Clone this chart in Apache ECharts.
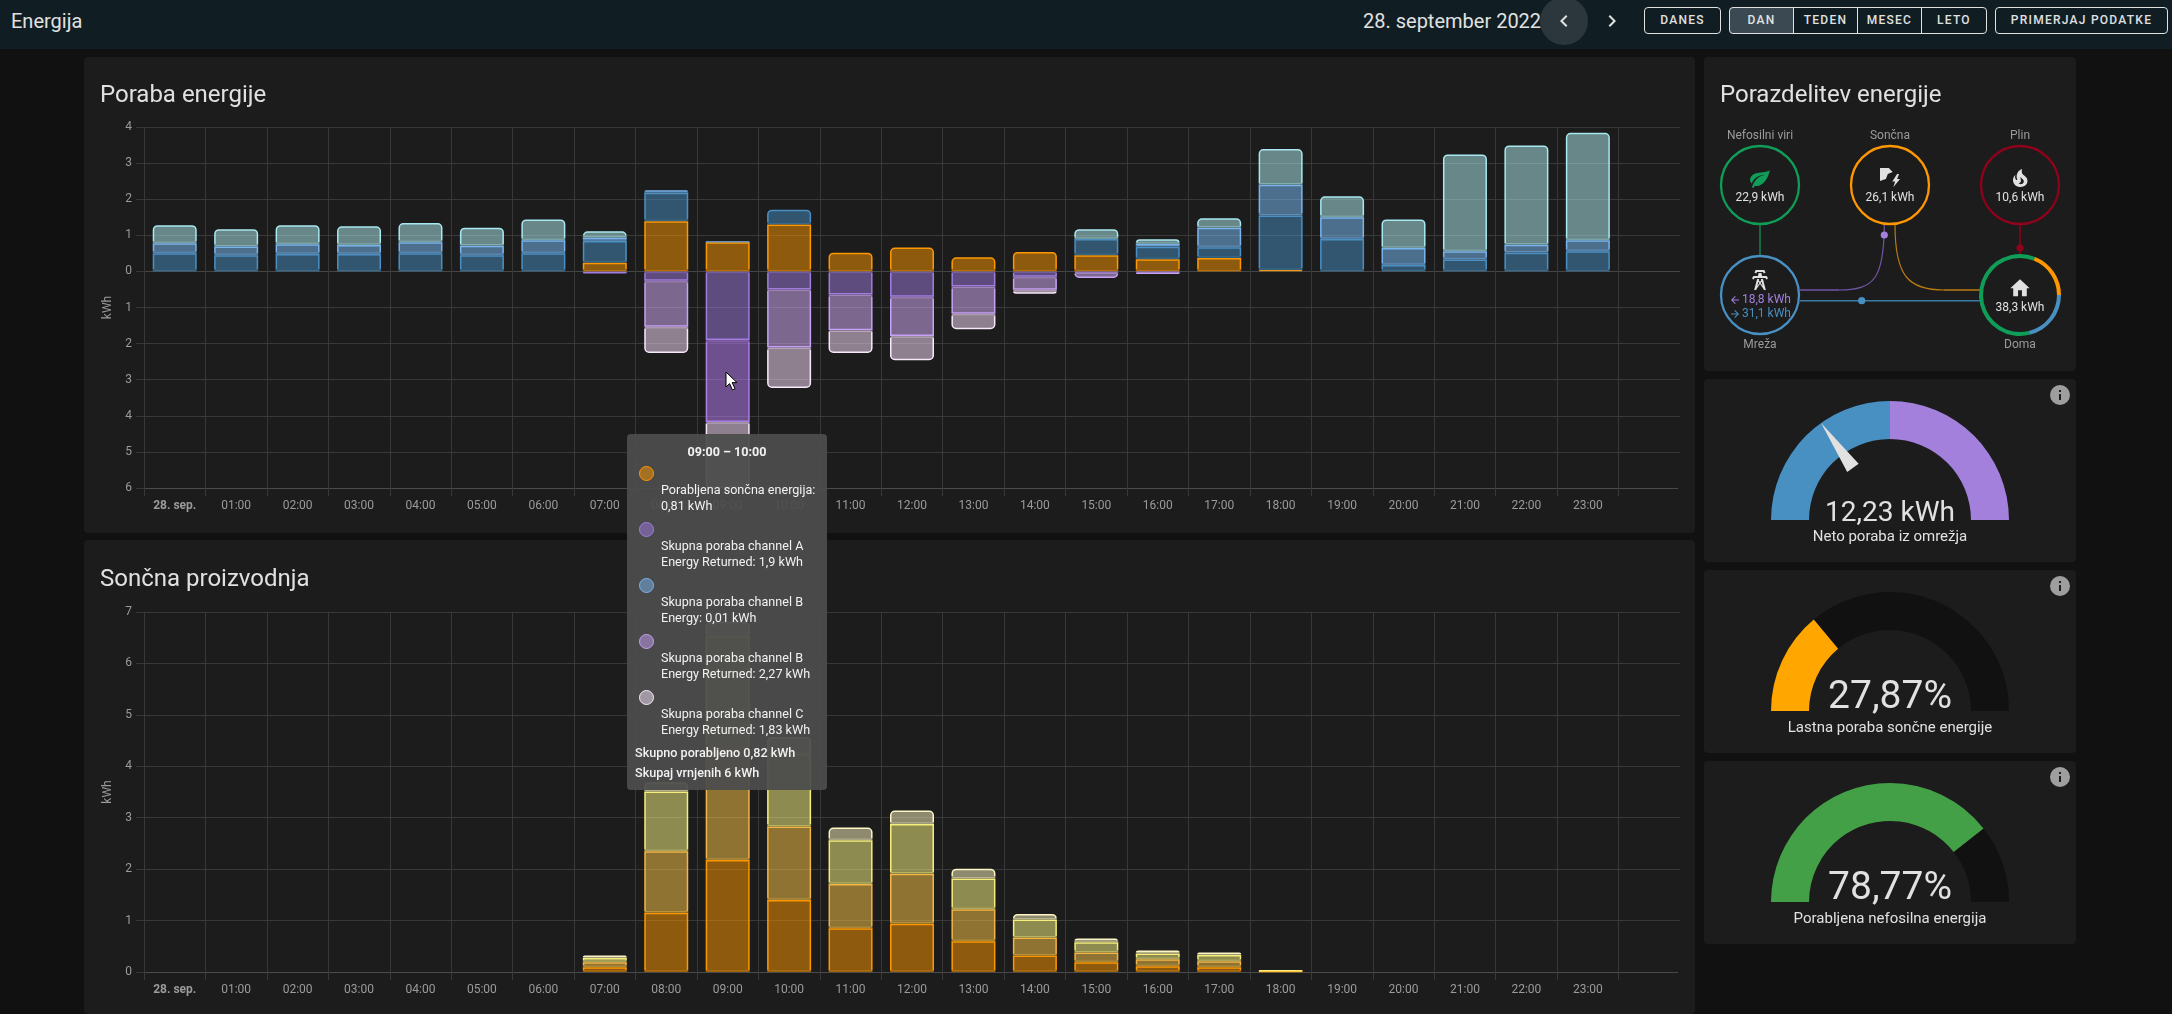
<!DOCTYPE html>
<html>
<head>
<meta charset="utf-8">
<title>Energija</title>
<script src="https://cdn.jsdelivr.net/npm/echarts@6/dist/echarts.min.js"></script>
<style>
    html, body { margin: 0; padding: 0; width: 2172px; height: 1014px; overflow: hidden; background: #111111; color: #e1e1e1; font-family: Roboto, sans-serif; }
    .header { position: absolute; left: 0; top: 0; width: 2172px; height: 49px; background: #101e24; }
    .header .name { position: absolute; left: 11px; top: 9px; font-size: 20px; line-height: 24px; }
    .header .date { position: absolute; left: 1363px; top: 9px; font-size: 20px; line-height: 24px; white-space: nowrap; }
    .hover-dot { position: absolute; left: 1540px; top: -3px; width: 48px; height: 48px; border-radius: 50%; background: #2b373d; }
    .chev { position: absolute; top: 9px; width: 24px; height: 24px; fill: #e1e1e1; }
    .btn { position: absolute; top: 7px; height: 27px; box-sizing: border-box; border: 1px solid #e1e1e1; border-radius: 4px; font-size: 12px; font-weight: 500; letter-spacing: 1.25px; line-height: 25px; text-align: center; white-space: nowrap; }
    .btn.mid { border-radius: 0; }
    .btn.first { border-radius: 4px 0 0 4px; }
    .btn.last { border-radius: 0 4px 4px 0; }
    .btn.on { background: #3b4a52; }
    .card { position: absolute; background: #1c1c1c; border-radius: 4px; overflow: hidden; }
    .card .title { position: absolute; left: 16px; top: 22px; font-size: 24px; line-height: 30px; white-space: nowrap; z-index: 2; }
    .card .plot { position: absolute; left: 0; top: 0; width: 100%; height: 100%; }
    .card svg.info { position: absolute; right: 4px; top: 4px; width: 24px; height: 24px; fill: #9e9e9e; z-index: 2; }
    .tip-title { text-align: center; font-weight: 700; line-height: 16px; margin-bottom: 6px; }
    .tip-dot { width: 13px; height: 13px; border-radius: 50%; border-width: 1.5px; border-style: solid; margin-left: 12px; margin-bottom: 1px; }
    .tip-text { margin-left: 34px; width: 162px; line-height: 15.5px; margin-bottom: 9px; white-space: normal; }
    .tip-sum { margin-left: 8px; font-weight: 500; line-height: 20px; white-space: nowrap; position: relative; top: -3px; }
    .cursor { position: absolute; left: 725px; top: 371px; width: 14px; height: 20px; z-index: 100000000; }
</style>
</head>
<body>

<div class="header">
    <div class="name">Energija</div>
    <div class="date">28. september 2022</div>
    <div class="hover-dot"></div>
    <svg class="chev" style="left:1552px" viewBox="0 0 24 24"><path d="M15.41,16.58L10.83,12L15.41,7.41L14,6L8,12L14,18L15.41,16.58Z"/></svg>
    <svg class="chev" style="left:1600px" viewBox="0 0 24 24"><path d="M8.59,16.58L13.17,12L8.59,7.41L10,6L16,12L10,18L8.59,16.58Z"/></svg>
    <div class="btn" style="left:1644px;width:77px">DANES</div>
    <div class="btn first on" style="left:1729px;width:65px">DAN</div>
    <div class="btn mid" style="left:1793px;width:65px">TEDEN</div>
    <div class="btn mid" style="left:1857px;width:65px">MESEC</div>
    <div class="btn last" style="left:1921px;width:66px">LETO</div>
    <div class="btn" style="left:1995px;width:173px">PRIMERJAJ PODATKE</div>
</div>

<div class="card" style="left:84px;top:57px;width:1611px;height:476px">
    <div class="title">Poraba energije</div>
    <div class="plot" id="usage"></div>
</div>
<div class="card" style="left:84px;top:540px;width:1611px;height:474px">
    <div class="title" style="top:23px">Sončna proizvodnja</div>
    <div class="plot" id="solar"></div>
</div>
<div class="card" style="left:1704px;top:57px;width:372px;height:314px">
    <div class="title">Porazdelitev energije</div>
    <div class="plot" id="flow"></div>
</div>
<div class="card" style="left:1704px;top:379px;width:372px;height:183px">
    <svg class="info" viewBox="0 0 24 24"><path d="M13,9H11V7H13M13,17H11V11H13M12,2A10,10 0 0,0 2,12A10,10 0 0,0 12,22A10,10 0 0,0 22,12A10,10 0 0,0 12,2Z"/></svg>
    <div class="plot" id="gauge-net"></div>
</div>
<div class="card" style="left:1704px;top:570px;width:372px;height:183px">
    <svg class="info" viewBox="0 0 24 24"><path d="M13,9H11V7H13M13,17H11V11H13M12,2A10,10 0 0,0 2,12A10,10 0 0,0 12,22A10,10 0 0,0 22,12A10,10 0 0,0 12,2Z"/></svg>
    <div class="plot" id="gauge-self"></div>
</div>
<div class="card" style="left:1704px;top:761px;width:372px;height:183px">
    <svg class="info" viewBox="0 0 24 24"><path d="M13,9H11V7H13M13,17H11V11H13M12,2A10,10 0 0,0 2,12A10,10 0 0,0 12,22A10,10 0 0,0 22,12A10,10 0 0,0 12,2Z"/></svg>
    <div class="plot" id="gauge-fossil"></div>
</div>

<svg class="cursor" viewBox="0 0 14 20"><path d="M1,1V16L4.6,12.6L7.4,19L10,17.8L7.2,11.6H12Z" fill="#fff" stroke="#000" stroke-width="1"/></svg>

<script>
const hours = ['28. sep.', '01:00', '02:00', '03:00', '04:00', '05:00', '06:00', '07:00', '08:00', '09:00', '10:00', '11:00',
    '12:00', '13:00', '14:00', '15:00', '16:00', '17:00', '18:00', '19:00', '20:00', '21:00', '22:00', '23:00', ''];

// usage chart, one value per hour, kWh
const solarConsumed = [null, null, null, null, null, null, null, 0.24, 1.39, 0.81, 1.30, 0.52, 0.66, 0.39, 0.54, 0.45, 0.34, 0.37, 0.03, null, null, null, null, null];
const channelA = [0.50, 0.45, 0.48, 0.48, 0.50, 0.45, 0.50, 0.60, 0.79, null, 0.41, null, null, null, null, 0.45, 0.34, 0.30, 1.52, 0.90, 0.18, 0.33, 0.52, 0.56];
const channelB = [0.28, 0.24, 0.27, 0.25, 0.31, 0.26, 0.36, 0.10, 0.07, 0.01, null, null, null, null, null, null, 0.08, 0.54, 0.85, 0.60, 0.47, 0.23, 0.22, 0.30];
const channelC = [0.50, 0.48, 0.53, 0.52, 0.53, 0.50, 0.58, 0.17, null, null, null, null, null, null, null, 0.27, 0.13, 0.26, 0.99, 0.58, 0.79, 2.68, 2.75, 2.98];
const returnedA = [null, null, null, null, null, null, null, -0.06, -0.26, -1.90, -0.50, -0.64, -0.70, -0.42, -0.15, -0.03, -0.02, null, null, null, null, null, null, null];
const returnedB = [null, null, null, null, null, null, null, null, -1.27, -2.27, -1.61, -0.99, -1.09, -0.75, -0.36, -0.15, -0.05, null, null, null, null, null, null, null];
const returnedC = [null, null, null, null, null, null, null, null, -0.73, -1.83, -1.12, -0.63, -0.67, -0.43, -0.11, null, null, null, null, null, null, null, null, null];

// solar chart
const panelEast = [null, null, null, null, null, null, null, 0.09, 1.15, 2.18, 1.40, 0.85, 0.94, 0.60, 0.32, 0.19, 0.11, 0.09, 0.01, null, null, null, null, null];
const panelSouth = [null, null, null, null, null, null, null, 0.10, 1.20, 2.18, 1.43, 0.86, 0.97, 0.62, 0.35, 0.19, 0.14, 0.12, 0.01, null, null, null, null, null];
const panelWest = [null, null, null, null, null, null, null, 0.08, 1.16, 2.17, 1.41, 0.85, 0.97, 0.60, 0.35, 0.20, 0.11, 0.12, 0.01, null, null, null, null, null];
const panelGarage = [null, null, null, null, null, null, null, 0.05, 0.18, 0.28, 0.33, 0.25, 0.26, 0.19, 0.11, 0.07, 0.06, 0.05, null, null, null, null, null, null];

const usageTicks = [-6, -5, -4, -3, -2, -1, 0, 1, 2, 3, 4];
const hoveredHour = 9;

const netGrid = 12.23;
const netRange = 31.1;
const selfConsumption = 27.87;
const lowCarbonShare = 78.77;
const homeMix = [8.13, 22.9, 7.27]; // grid, low carbon, solar

const labelColor = '#9b9b9b';
const lineColor = '#383838';
const zeroColor = '#454545';

function kwh(value) {
    return String(Number(value.toFixed(2))).replace('.', ',') + ' kWh';
}

// the reference strokes three sides of a segment, not the one towards zero,
// so on that side the stroke takes the fill colour over the last two pixels
function openBorder(color, fill, value, pxPerKwh) {
    const cut = Math.min(0.5, 2 / (Math.abs(value) * pxPerKwh));
    const stops = value < 0
        ? [{offset: 0, color: fill}, {offset: cut, color: fill}, {offset: cut, color: color}, {offset: 1, color: color}]
        : [{offset: 0, color: color}, {offset: 1 - cut, color: color}, {offset: 1 - cut, color: fill}, {offset: 1, color: fill}];
    return {type: 'linear', x: 0, y: 0, x2: 0, y2: 1, colorStops: stops};
}

// rounds the outer end of each stack, the same way on both sides of zero
function stackData(values, above, fill, border, pxPerKwh, override) {
    return values.map(function (value, i) {
        if (value === null) return {value: null};
        const outer = !above.some(function (other) { return other[i] !== null; });
        const hovered = override && i === hoveredHour;
        const style = {
            borderColor: hovered ? openBorder(override.borderColor, override.color, value, pxPerKwh) : openBorder(border, fill, value, pxPerKwh)
        };
        if (outer) style.borderRadius = value < 0 ? [0, 0, 4, 4] : [4, 4, 0, 0];
        if (hovered) style.color = override.color;
        return {value: value, itemStyle: style};
    });
}

function barSeries(name, values, above, fill, border, pxPerKwh, override) {
    return {
        type: 'bar',
        name: name,
        stack: 'total',
        barWidth: 44,
        data: stackData(values, above, fill, border, pxPerKwh, override),
        itemStyle: {color: fill, borderWidth: 1.5},
        emphasis: {disabled: true},
        animation: false
    };
}

function xAxisOption() {
    return {
        type: 'category',
        data: hours,
        axisLine: {onZero: false, lineStyle: {color: '#4a4a4a'}},
        axisTick: {show: true, length: 8, interval: 0, lineStyle: {color: lineColor}},
        axisLabel: {
            color: labelColor,
            fontSize: 12,
            fontFamily: 'Roboto',
            margin: 12,
            interval: 0,
            formatter: function (value, index) {
                return index === 0 ? '{day|' + value + '}' : value;
            },
            rich: {day: {fontWeight: 'bold', color: labelColor, fontSize: 12, fontFamily: 'Roboto'}}
        },
        splitLine: {show: true, showMaxLine: false, interval: 0, lineStyle: {color: lineColor}}
    };
}

function yAxisOption(min, max, colors) {
    return {
        type: 'value',
        min: min,
        max: max,
        interval: 1,
        name: 'kWh',
        nameLocation: 'middle',
        nameGap: 28,
        nameTextStyle: {color: labelColor, fontSize: 12, fontFamily: 'Roboto'},
        axisLine: {show: false},
        axisTick: {show: true, length: 8, lineStyle: {color: lineColor}},
        axisLabel: {
            color: labelColor,
            fontSize: 12,
            fontFamily: 'Roboto',
            margin: 12,
            formatter: function (value) { return Math.abs(value); }
        },
        splitLine: {show: true, lineStyle: {color: colors}}
    };
}

// the library always adds a tick at the end of a band axis, the reference has none there
function hideLastTick(bottom) {
    return [{type: 'rect', right: 14, bottom: bottom, shape: {width: 3, height: 8}, style: {fill: '#1c1c1c'}, z: 100}];
}

const usagePx = 36.1;
const usageChart = echarts.init(document.getElementById('usage'));
const usageSeries = [
    barSeries('Porabljena sončna energija:', solarConsumed, [channelA, channelB, channelC], 'rgba(255,152,0,0.5)', '#ff9800', usagePx),
    barSeries('Skupna poraba channel A', channelA, [channelB, channelC], 'rgba(72,143,194,0.5)', '#4a90c4', usagePx),
    barSeries('Skupna poraba channel A Energy Returned', returnedA, [returnedB, returnedC], 'rgba(160,124,224,0.5)', '#a07ce0', usagePx),
    barSeries('Skupna poraba channel B Energy', channelB, [channelC], 'rgba(126,194,255,0.5)', '#79b4ee', usagePx),
    barSeries('Skupna poraba channel B Energy Returned', returnedB, [returnedC], 'rgba(220,178,255,0.5)', '#c6a1f5', usagePx, {color: 'rgba(194,132,255,0.5)', borderColor: '#a880e8'}),
    barSeries('Skupna poraba channel C', channelC, [], 'rgba(178,242,246,0.5)', '#a8e8f0', usagePx),
    barSeries('Skupna poraba channel C Energy Returned', returnedC, [], 'rgba(255,228,255,0.5)', '#f7e8fb', usagePx)
];
const usageDots = ['#ff9800', '#4a90c4', '#a07ce0', '#79b4ee', '#c6a1f5', '#a8e8f0', '#f7e8fb'];

function tooltipHtml(params) {
    let html = '<div class="tip-title">09:00 – 10:00</div>';
    let used = 0;
    let back = 0;
    params.forEach(function (p) {
        if (p.value === null || p.value === undefined) return;
        if (p.value < 0) back -= p.value; else used += p.value;
        const dot = usageDots[p.seriesIndex];
        html += '<div class="tip-dot" style="border-color:' + dot + ';background:' + dot + '80"></div>';
        html += '<div class="tip-text">' + p.seriesName + (p.seriesName.slice(-1) === ':' ? ' ' : ': ') + kwh(Math.abs(p.value)) + '</div>';
    });
    html += '<div class="tip-sum">Skupno porabljeno ' + kwh(used) + '</div>';
    html += '<div class="tip-sum">Skupaj vrnjenih ' + kwh(back) + '</div>';
    return html;
}

usageChart.setOption({
    animation: false,
    grid: {left: 60, right: 15, top: 70, height: 361, containLabel: false},
    tooltip: {
        trigger: 'axis',
        triggerOn: 'none',
        alwaysShowContent: true,
        appendTo: document.body,
        axisPointer: {type: 'none'},
        transitionDuration: 0,
        backgroundColor: 'rgba(77,77,77,0.94)',
        borderWidth: 0,
        padding: [10, 0, 0, 0],
        textStyle: {color: '#f2f2f2', fontSize: 12.6, fontFamily: 'Roboto'},
        extraCssText: 'width:200px;height:356px;box-sizing:border-box;border-radius:4px;box-shadow:none;',
        position: function () { return [543, 377]; },
        formatter: tooltipHtml
    },
    xAxis: xAxisOption(),
    yAxis: yAxisOption(-6, 4, usageTicks.map(function (t) { return t === 0 ? zeroColor : lineColor; })),
    series: usageSeries,
    graphic: hideLastTick(37)
});
usageChart.dispatchAction({type: 'showTip', seriesIndex: 0, dataIndex: hoveredHour});

const solarPx = 51.4;
const solarChart = echarts.init(document.getElementById('solar'));
solarChart.setOption({
    animation: false,
    grid: {left: 60, right: 15, top: 72, height: 360},
    xAxis: xAxisOption(),
    yAxis: yAxisOption(0, 7, [lineColor]),
    series: [
        barSeries('East', panelEast, [panelSouth, panelWest, panelGarage], 'rgba(255,152,0,0.5)', '#ff9800', solarPx),
        barSeries('South', panelSouth, [panelWest, panelGarage], 'rgba(255,202,74,0.5)', '#f5b545', solarPx),
        barSeries('West', panelWest, [panelGarage], 'rgba(254,250,130,0.5)', '#f5ee7a', solarPx),
        barSeries('Garage', panelGarage, [], 'rgba(255,248,196,0.5)', '#fbf6c4', solarPx)
    ],
    graphic: hideLastTick(34)
});

// energy distribution diagram, the home ring is a pie of its three sources
const nodes = [
    {x: 56, y: 128, color: '#0f9d58'},
    {x: 186, y: 128, color: '#ff9800'},
    {x: 316, y: 128, color: '#8e021b'},
    {x: 56, y: 238, color: '#488fc2'}
];

function nodeText(text, x, y, color, align) {
    return {
        type: 'text',
        x: x,
        y: y,
        style: {text: text, fill: color || '#e1e1e1', font: '12px Roboto', textAlign: align || 'center', textVerticalAlign: 'middle'}
    };
}

function icon(pathData, x, y, w, h, color) {
    return {type: 'path', shape: {pathData: pathData, x: x, y: y, width: w, height: h, layout: 'cover'}, style: {fill: color || '#e1e1e1'}};
}

function straight(x1, y1, x2, y2, color) {
    return {type: 'line', shape: {x1: x1, y1: y1, x2: x2, y2: y2}, style: {stroke: color, lineWidth: 1.6}};
}

function curve(p0, p1, p2, p3, color) {
    return {type: 'bezierCurve', shape: {x1: p0[0], y1: p0[1], cpx1: p1[0], cpy1: p1[1], cpx2: p2[0], cpy2: p2[1], x2: p3[0], y2: p3[1]}, style: {fill: 'none', stroke: color, lineWidth: 1.2}};
}

function dot(x, y, color) {
    return {type: 'circle', shape: {cx: x, cy: y, r: 3.6}, style: {fill: color}};
}

const flowGraphic = [
    straight(56, 168, 56, 198, '#177a49'),
    straight(316, 168, 316, 198, '#8e021b'),
    dot(316, 191, '#8e021b'),
    straight(96, 243.7, 276, 243.7, '#3a7aa6'),
    dot(157.7, 243.7, '#488fc2'),
    straight(96, 233, 135, 233, '#7256a6'),
    curve([135, 233], [170, 233], [180, 222], [180.3, 168], '#7256a6'),
    dot(180.3, 178, '#a280db'),
    curve([191, 168], [191, 220], [205, 233], [240, 233], '#b87a10'),
    straight(240, 233, 276, 233, '#b87a10')
];
nodes.forEach(function (n) {
    flowGraphic.push({type: 'circle', shape: {cx: n.x, cy: n.y, r: 39}, style: {fill: '#1c1c1c', stroke: n.color, lineWidth: 2.3}});
});
flowGraphic.push(
    nodeText('Nefosilni viri', 56, 79, labelColor),
    nodeText('Sončna', 186, 79, labelColor),
    nodeText('Plin', 316, 79, labelColor),
    nodeText('Mreža', 56, 288, labelColor),
    nodeText('Doma', 316, 288, labelColor),
    nodeText('22,9 kWh', 56, 141),
    nodeText('26,1 kWh', 186, 141),
    nodeText('10,6 kWh', 316, 141),
    nodeText('38,3 kWh', 316, 251),
    nodeText('18,8 kWh', 38, 243, '#a280db', 'left'),
    nodeText('31,1 kWh', 38, 257, '#488fc2', 'left')
);

const flowIcons = [
    icon('M20,11V13H8L13.5,18.5L12.08,19.92L4.16,12L12.08,4.08L13.5,5.5L8,11H20Z', 27, 239, 8, 8, '#a280db'),
    icon('M4,11V13H16L10.5,18.5L11.92,19.92L19.84,12L11.92,4.08L10.5,5.5L16,11H4Z', 27, 253, 8, 8, '#488fc2'),
    icon('M17,8C8,10 5.9,16.17 3.82,21.34L5.71,22L6.66,19.7C7.14,19.87 7.64,20 8,20C19,20 22,3 22,3C21,5 14,5.25 9,6.25C4,7.25 2,11.5 2,13.5C2,15.5 3.75,17.25 3.75,17.25C7,8 17,8 17,8Z', 46, 113, 20, 18, '#0f9d58'),
    icon('M0,0H9L13,4L8,6L6,11L0,13Z', 176, 111, 12.7, 13),
    icon('M5,0L0,9H3L1,16L8,6H5L7,0Z', 188.3, 117, 7.7, 13.3),
    icon('M17.66 11.2C17.43 10.9 17.15 10.64 16.89 10.38C16.22 9.78 15.46 9.35 14.82 8.72C13.33 7.26 13 4.85 13.95 3C13 3.23 12.17 3.75 11.46 4.32C8.87 6.4 7.85 10.07 9.07 13.22C9.11 13.32 9.15 13.42 9.15 13.55C9.15 13.77 9 13.97 8.8 14.05C8.57 14.15 8.33 14.09 8.14 13.93C8.08 13.88 8.04 13.83 8 13.76C6.87 12.33 6.69 10.28 7.45 8.64C5.78 10 4.87 12.3 5 14.47C5.06 14.97 5.12 15.47 5.29 15.97C5.43 16.57 5.7 17.17 6 17.7C7.08 19.43 8.95 20.67 10.96 20.92C13.1 21.19 15.39 20.8 17.03 19.32C18.86 17.66 19.5 15 18.56 12.72L18.43 12.46C18.22 12 17.66 11.2 17.66 11.2M14.5 17.5C14.22 17.74 13.76 18 13.4 18.1C12.28 18.5 11.16 17.94 10.5 17.28C11.69 17 12.4 16.12 12.61 15.23C12.78 14.43 12.46 13.77 12.33 13C12.21 12.26 12.23 11.63 12.5 10.94C12.69 11.32 12.89 11.7 13.13 12C13.9 13 15.11 13.44 15.37 14.8C15.41 14.94 15.43 15.08 15.43 15.23C15.46 16.05 15.1 16.95 14.5 17.5H14.5Z', 309, 112, 14.5, 18),
    icon('M8.28,5.45L6.5,4.55L7.76,2H16.23L17.5,4.55L15.72,5.44L15,4H9L8.28,5.45M18.62,8H14.09L13.3,5H10.7L9.91,8H5.38L4.1,10.55L5.89,11.44L6.62,10H17.38L18.1,11.45L19.89,10.56L18.62,8M17.77,22H15.7L15.46,21.1L12,15.9L8.53,21.1L8.3,22H6.23L9.12,11H11.19L10.83,12.35L12,14.1L13.16,12.35L12.81,11H14.88L17.77,22M11.4,15L10.5,13.65L9.32,18.13L11.4,15M14.68,18.12L13.5,13.64L12.6,15L14.68,18.12Z', 48, 213, 16, 20),
    icon('M10,20V14H14V20H19V12H22L12,3L2,12H5V20H10Z', 306.3, 222.3, 19.4, 17)
];

const flowChart = echarts.init(document.getElementById('flow'));
flowChart.setOption({
    animation: false,
    series: [{
        type: 'pie',
        silent: true,
        center: [316, 238],
        radius: [37, 41],
        startAngle: 0,
        label: {show: false},
        labelLine: {show: false},
        data: [
            {value: homeMix[0], name: 'Mreža', itemStyle: {color: '#488fc2'}},
            {value: homeMix[1], name: 'Nefosilni viri', itemStyle: {color: '#0f9d58'}},
            {value: homeMix[2], name: 'Sončna', itemStyle: {color: '#ff9800'}}
        ],
        z: 5
    }, {
        type: 'custom',
        coordinateSystem: 'none',
        silent: true,
        data: [0],
        z: 6,
        renderItem: function () {
            return {type: 'group', children: flowIcons};
        }
    }],
    graphic: flowGraphic
});

function gauge(id, option) {
    const chart = echarts.init(document.getElementById(id));
    chart.setOption({
        animation: false,
        series: [{
            type: 'gauge',
            center: [186, 141],
            radius: 119,
            startAngle: 180,
            endAngle: 0,
            min: option.min,
            max: option.max,
            silent: true,
            axisLine: {lineStyle: {width: 38, color: option.colors}},
            splitLine: {show: false},
            axisTick: {show: false},
            axisLabel: {show: false},
            anchor: {show: false},
            pointer: option.pointer,
            itemStyle: {color: '#e1e1e1'},
            title: {offsetCenter: [0, 17], fontSize: 15, color: '#e1e1e1', fontFamily: 'Roboto'},
            detail: {offsetCenter: [0, option.textY], fontSize: option.fontSize, fontWeight: 'normal', color: '#e1e1e1', fontFamily: 'Roboto', formatter: option.format},
            data: [{value: option.value, name: option.name}]
        }]
    });
}

gauge('gauge-net', {
    min: netRange,
    max: -netRange,
    value: netGrid,
    name: 'Neto poraba iz omrežja',
    colors: [[0.5, '#488fc2'], [1, '#a280db']],
    pointer: {show: true, icon: 'triangle', length: 55, width: 14, offsetCenter: [0, -64]},
    textY: -6,
    fontSize: 28,
    format: function (v) { return v.toFixed(2).replace('.', ',') + ' kWh'; }
});
gauge('gauge-self', {
    min: 0,
    max: 100,
    value: selfConsumption,
    name: 'Lastna poraba sončne energije',
    colors: [[selfConsumption / 100, '#ffa600'], [1, '#111111']],
    pointer: {show: false},
    textY: -13,
    fontSize: 39,
    format: function (v) { return v.toFixed(2).replace('.', ',') + '%'; }
});
gauge('gauge-fossil', {
    min: 0,
    max: 100,
    value: lowCarbonShare,
    name: 'Porabljena nefosilna energija',
    colors: [[lowCarbonShare / 100, '#43a047'], [1, '#111111']],
    pointer: {show: false},
    textY: -13,
    fontSize: 39,
    format: function (v) { return v.toFixed(2).replace('.', ',') + '%'; }
});
</script>
</body>
</html>
